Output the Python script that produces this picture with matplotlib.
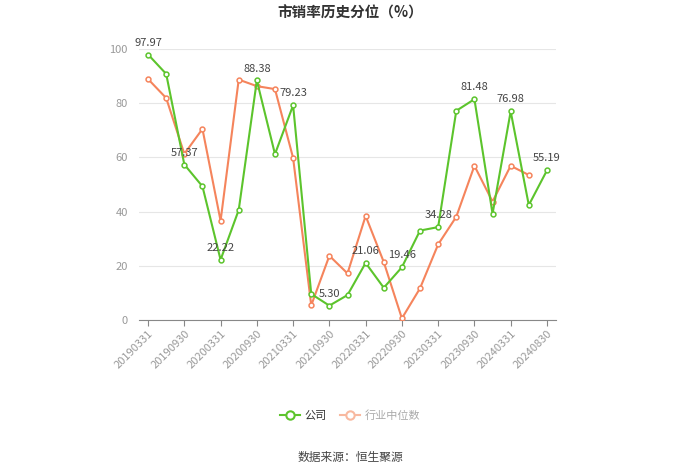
import numpy as np
import matplotlib
matplotlib.use("Agg")
import matplotlib.pyplot as plt
from matplotlib.lines import Line2D

plt.rcParams['font.family'] = ['Noto Sans CJK SC', 'DejaVu Sans']

dates = [
    "20190331", "20190630", "20190930", "20191231",
    "20200331", "20200630", "20200930", "20201231",
    "20210331", "20210630", "20210930", "20211231",
    "20220331", "20220630", "20220930", "20221231",
    "20230331", "20230630", "20230930", "20231231",
    "20240331", "20240630", "20240830",
]
company = [
    97.97, 90.8, 57.37, 49.3, 22.22, 40.6, 88.38, 61.2, 79.23, 9.6, 5.30, 9.2,
    21.06, 11.9, 19.46, 33.0, 34.28, 77.2, 81.48, 39.2, 76.98, 42.4, 55.19,
]
industry = [
    88.9, 81.9, 61.3, 70.5, 36.6, 88.7, 86.3, 85.2, 59.8, 5.4, 23.7, 17.2,
    38.4, 21.4, 0.6, 11.7, 27.9, 38.1, 56.9, 43.7, 56.9, 53.5, np.nan,
]

GREEN = "#5cc42c"
ORANGE = "#f5845c"
GRID = "#e6e6e6"
TXT = "#999999"

fig = plt.figure(figsize=(7, 4.74), dpi=100)
ax = fig.add_axes([139 / 700, 1 - 320 / 474, 417 / 700, 271 / 474])

x = np.arange(len(dates))
ax.plot(x, industry, color=ORANGE, lw=1.5, marker="o", ms=3.5,
        mfc="white", mec=ORANGE, mew=1.1, zorder=3)
ax.plot(x, company, color=GREEN, lw=1.5, marker="o", ms=3.5,
        mfc="white", mec=GREEN, mew=1.1, zorder=4)

# value labels on every other company point
for i in range(0, len(dates), 2):
    ax.annotate(f"{company[i]:.2f}", (x[i], company[i]), xytext=(0, 5),
                textcoords="offset points", ha="center", va="bottom",
                fontsize=8, color="#444444", zorder=5)

ax.set_xlim(-0.5, len(dates) - 0.5)
ax.set_ylim(0, 100)
ax.set_yticks(range(0, 101, 20))
ax.set_xticks(x[::2])
ax.set_xticklabels(dates[::2], rotation=45, ha="right", rotation_mode="anchor",
                   fontsize=8, color=TXT)
ax.tick_params(axis="y", length=0, labelsize=8, labelcolor=TXT, pad=8)
ax.tick_params(axis="x", length=4, color="#888888", pad=2)
ax.grid(axis="y", color=GRID, lw=0.8)
ax.set_axisbelow(True)
for s in ["top", "right", "left"]:
    ax.spines[s].set_visible(False)
ax.spines["bottom"].set_color("#888888")

fig.text(0.5, 1 - 13 / 474, "市销率历史分位（%）", ha="center", va="center",
         fontsize=10.5, fontweight="bold", color="#333333")

handles = [
    Line2D([0], [0], color=GREEN, lw=1.5, marker="o", ms=6, mfc="white",
           mec=GREEN, mew=1.5, label="公司"),
    Line2D([0], [0], color="#f8b9a0", lw=1.5, marker="o", ms=6, mfc="white",
           mec="#f8b9a0", mew=1.5, label="行业中位数"),
]
leg = fig.legend(handles=handles, loc="center", bbox_to_anchor=(0.5, 1 - 416 / 474),
                 ncol=2, frameon=False, fontsize=8, handlelength=1.8,
                 columnspacing=1.2, handletextpad=0.4)
leg.get_texts()[0].set_color("#333333")
leg.get_texts()[1].set_color("#aaaaaa")

fig.text(0.5, 1 - 457 / 474, "数据来源：恒生聚源", ha="center", va="center",
         fontsize=8.5, color="#444444")

fig.savefig("out.png", dpi=100)
